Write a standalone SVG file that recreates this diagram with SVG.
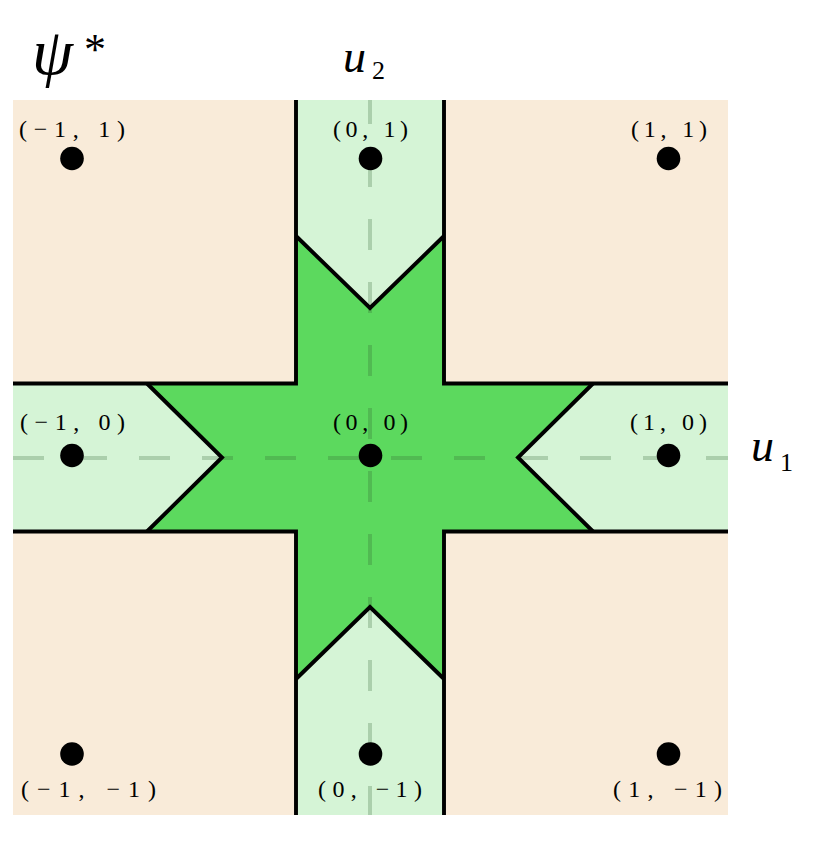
<svg xmlns="http://www.w3.org/2000/svg" width="826" height="842" viewBox="0 0 826 842">
<style>
.peach{fill:#F9EBD9}
.light{fill:#D5F4D6}
.dark{fill:#5CD95E}
.axis{stroke:#2e5e2e;stroke-opacity:0.25;stroke-width:4;stroke-dasharray:31 32;fill:none}
.edge{stroke:#000;stroke-width:3.9;fill:none;stroke-linejoin:miter}
.dot{fill:#000}
.lbl{font-family:"Liberation Serif","DejaVu Serif",serif;font-size:24px;fill:#000;text-anchor:middle}
.math{font-family:"Liberation Serif","DejaVu Serif",serif;font-style:italic;fill:#000}
.sub{font-family:"Liberation Serif","DejaVu Serif",serif;font-style:normal;font-size:26px}
</style>
<g id="regions">
<rect class="peach" x="13" y="100" width="715" height="715"/>
<rect class="light" x="296" y="100" width="148" height="715"/>
<rect class="light" x="13" y="383.5" width="715" height="148"/>
<polygon class="dark" points="296,236 370,308 444,236 444,383.5 593,383.5 518,457.5 593,531.5 444,531.5 444,679 370,607 296,679 296,531.5 147,531.5 222,457.5 147,383.5 296,383.5"/>
</g>
<g id="connectors">
<line class="axis" x1="13" y1="458" x2="728" y2="458"/>
<line class="axis" x1="370" y1="100" x2="370" y2="815" style="stroke-dashoffset:7"/>
<path class="edge" d="M296,100 V383.5 H13"/>
<path class="edge" d="M444,100 V383.5 H728"/>
<path class="edge" d="M296,815 V531.5 H13"/>
<path class="edge" d="M444,815 V531.5 H728"/>
<path class="edge" d="M296,236 L370,308 L444,236"/>
<path class="edge" d="M296,679 L370,607 L444,679"/>
<path class="edge" d="M147,383.5 L222,457.5 L147,531.5"/>
<path class="edge" d="M593,383.5 L518,457.5 L593,531.5"/>
</g>
<g id="node-m1-1"><circle class="dot" cx="72" cy="158.5" r="11.8"/><text class="lbl" x="72" y="137" textLength="106" lengthAdjust="spacing">(−1, 1)</text></g>
<g id="node-0-1"><circle class="dot" cx="370.5" cy="158.5" r="11.8"/><text class="lbl" x="370.5" y="137" textLength="75" lengthAdjust="spacing">(0, 1)</text></g>
<g id="node-1-1"><circle class="dot" cx="668.5" cy="158.5" r="11.8"/><text class="lbl" x="669" y="137" textLength="76" lengthAdjust="spacing">(1, 1)</text></g>
<g id="node-m1-0"><circle class="dot" cx="72" cy="455.5" r="11.8"/><text class="lbl" x="72.5" y="430" textLength="105" lengthAdjust="spacing">(−1, 0)</text></g>
<g id="node-0-0"><circle class="dot" cx="370.5" cy="455.5" r="11.8"/><text class="lbl" x="370.5" y="430" textLength="75" lengthAdjust="spacing">(0, 0)</text></g>
<g id="node-1-0"><circle class="dot" cx="668.5" cy="455.5" r="11.8"/><text class="lbl" x="668.5" y="430" textLength="77" lengthAdjust="spacing">(1, 0)</text></g>
<g id="node-m1-m1"><circle class="dot" cx="72" cy="754" r="11.8"/><text class="lbl" x="88.5" y="797" textLength="135" lengthAdjust="spacing">(−1, −1)</text></g>
<g id="node-0-m1"><circle class="dot" cx="370.5" cy="754" r="11.8"/><text class="lbl" x="370" y="797" textLength="104" lengthAdjust="spacing">(0, −1)</text></g>
<g id="node-1-m1"><circle class="dot" cx="668.5" cy="754" r="11.8"/><text class="lbl" x="667.5" y="797" textLength="109" lengthAdjust="spacing">(1, −1)</text></g>
<g id="title"><text class="math" x="32" y="74" font-size="66">ψ<tspan font-style="normal" font-size="44" x="84" y="64">*</tspan></text></g>
<g id="axis-u2"><text class="math" x="343" y="72" font-size="46">u<tspan class="sub" x="372" y="79">2</tspan></text></g>
<g id="axis-u1"><text class="math" x="751" y="461" font-size="46">u<tspan class="sub" x="780" y="471">1</tspan></text></g>
</svg>
